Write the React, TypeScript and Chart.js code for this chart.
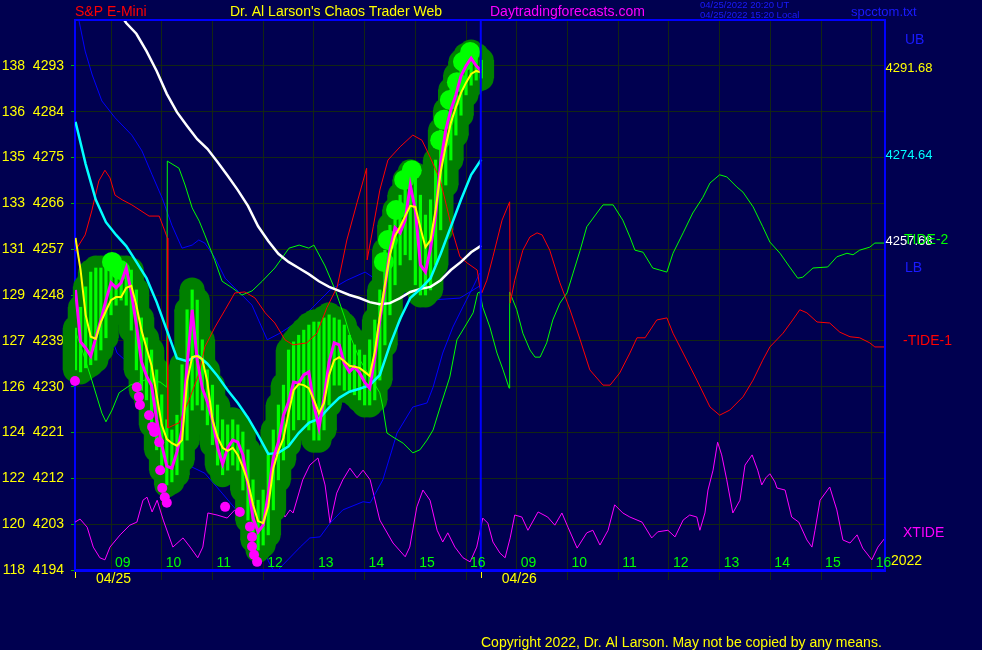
import React, { useEffect, useRef } from 'react';
import { Chart, registerables } from 'chart.js';

Chart.register(...registerables);

// ---------- axis / label data ----------
const hourTicks = [0, 1, 2, 3, 4, 5, 6, 7, 8, 9, 10, 11, 12, 13, 14, 15];
const hourLabels = ['09', '10', '11', '12', '13', '14', '15', '16', '09', '10', '11', '12', '13', '14', '15', '16'];
const dateTicks = [0, 8];
const dateLabels = ['04/25', '04/26'];
const dayStartMarks = [-0.71, 7.29];
const nowTime = 7.29;
const priceTicks = [4194, 4203, 4212, 4221, 4230, 4239, 4248, 4257, 4266, 4275, 4284, 4293];
const leftTickLabels = ['118', '120', '122', '124', '126', '127', '129', '131', '133', '135', '136', '138'];
const xMin = -0.71;
const xMax = 15.26;
const yMin = 4194;
const yMax = 4302;

// ---------- series (x = session hours from 09:00 of 04/25) ----------
const fastStart = -0.7;
const fastStep = 0.1;
const priceClose = [
  4249.0, 4238.8, 4237.6, 4236.0, 4239.6, 4243.1, 4247.0, 4250.4, 4249.4, 4250.4,
  4253.3, 4248.6, 4242.1, 4234.9, 4232.1, 4230.2, 4223.5, 4218.6, 4214.4, 4214.0,
  4217.2, 4221.5, 4234.3, 4245.1, 4235.2, 4229.7, 4227.0, 4223.5, 4218.1, 4214.8,
  4218.0, 4219.5, 4219.1, 4216.6, 4210.7, 4204.2, 4201.5, 4202.8, 4208.9, 4216.0,
  4219.1, 4224.4, 4227.0, 4230.9, 4230.7, 4232.3, 4232.9, 4226.4, 4221.9, 4227.8,
  4234.9, 4238.6, 4238.2, 4234.5, 4232.9, 4233.9, 4232.7, 4230.9, 4229.7, 4235.6,
  4243.1, 4249.4, 4256.8, 4261.2, 4260.2, 4262.7, 4269.6, 4264.7, 4253.9, 4252.5,
  4257.2, 4263.7, 4274.1, 4280.4, 4284.3, 4287.3, 4291.0, 4293.0, 4294.5, 4293.0,
  4292.0,
];
const fastAverage = [
  4259.2, 4252.9, 4244.1, 4239.8, 4239.4, 4242.7, 4244.9, 4247.0, 4247.6, 4247.6,
  4249.4, 4249.8, 4246.0, 4241.1, 4237.6, 4234.1, 4228.4, 4222.5, 4219.7, 4218.9,
  4218.4, 4219.5, 4231.1, 4235.8, 4236.0, 4235.4, 4230.9, 4223.5, 4220.1, 4218.0,
  4217.4, 4218.0, 4216.6, 4214.2, 4211.3, 4206.8, 4203.6, 4203.2, 4206.5, 4214.0,
  4217.4, 4219.9, 4224.8, 4229.3, 4230.5, 4230.3, 4229.7, 4227.4, 4224.8, 4226.8,
  4232.3, 4235.2, 4235.8, 4235.0, 4234.1, 4233.9, 4233.7, 4232.9, 4232.1, 4236.8,
  4243.7, 4250.0, 4255.9, 4259.6, 4261.4, 4263.5, 4265.5, 4265.3, 4261.2, 4257.4,
  4258.8, 4264.7, 4272.2, 4277.3, 4281.8, 4284.9, 4287.7, 4289.7, 4291.4, 4292.0,
  4291.7,
];
const barHigh = [
  4241.5, 4245.6, 4249.6, 4252.5, 4253.3, 4253.3, 4253.3, 4252.9, 4252.9, 4253.3,
  4253.3, 4252.9, 4249.0, 4243.5, 4239.6, 4237.2, 4233.3, 4228.4, 4223.5, 4221.5,
  4224.4, 4234.3, 4245.1, 4249.0, 4247.0, 4239.2, 4233.3, 4230.3, 4226.4, 4223.5,
  4222.5, 4223.5, 4222.5, 4221.1, 4217.6, 4211.7, 4207.7, 4209.7, 4216.6, 4221.5,
  4226.4, 4230.3, 4237.2, 4238.8, 4240.1, 4241.1, 4242.1, 4242.7, 4242.7, 4243.5,
  4244.1, 4243.5, 4243.1, 4242.1, 4240.1, 4238.2, 4237.2, 4236.2, 4239.2, 4243.1,
  4249.0, 4256.8, 4261.7, 4264.7, 4267.6, 4270.6, 4272.2, 4271.6, 4267.6, 4263.7,
  4266.7, 4274.5, 4280.4, 4284.3, 4288.3, 4291.2, 4293.8, 4295.1, 4295.7, 4295.1,
  4294.1,
];
const barLow = [
  4233.3, 4232.9, 4233.7, 4234.3, 4235.2, 4237.2, 4239.6, 4244.1, 4246.0, 4247.0,
  4246.0, 4241.1, 4233.3, 4229.3, 4227.4, 4222.5, 4217.6, 4213.6, 4210.7, 4211.3,
  4212.7, 4215.6, 4219.5, 4225.4, 4226.4, 4225.4, 4222.5, 4218.6, 4214.6, 4212.7,
  4213.6, 4214.6, 4213.6, 4209.7, 4203.8, 4199.9, 4197.9, 4198.9, 4200.9, 4205.8,
  4211.7, 4215.6, 4218.6, 4221.5, 4223.5, 4223.5, 4221.5, 4219.5, 4219.5, 4221.5,
  4226.4, 4230.3, 4230.3, 4229.3, 4229.3, 4228.4, 4227.4, 4226.4, 4226.4, 4227.4,
  4231.3, 4238.2, 4244.1, 4250.0, 4253.9, 4255.9, 4254.9, 4250.0, 4248.0, 4248.0,
  4249.0, 4253.9, 4260.8, 4269.6, 4274.5, 4279.4, 4283.3, 4287.3, 4289.2, 4290.2,
  4290.6,
];

const slowStart = -0.7;
const slowStep = 0.2;
const mediumAverage = [
  4282.0, 4273.7, 4266.7, 4262.3, 4259.8, 4257.6, 4254.5, 4251.3, 4246.6, 4241.1,
  4235.6, 4235.0, 4236.2, 4234.5, 4232.1, 4229.3, 4226.8, 4223.9, 4220.5, 4216.8,
  4217.0, 4218.3, 4220.9, 4222.9, 4223.7, 4225.9, 4227.8, 4229.0, 4229.6, 4230.3,
  4232.3, 4238.2, 4243.3, 4247.4, 4249.2, 4251.3, 4256.1, 4261.4, 4266.7, 4271.6,
  4274.6,
];
const longStart = 0.1;
const longStep = 0.2;
const longAverage = [
  4304.4, 4301.4, 4299.3, 4295.9, 4292.0, 4287.5, 4283.9, 4281.2, 4278.6, 4276.7,
  4274.1, 4271.4, 4268.6, 4265.5, 4261.5, 4258.6, 4256.1, 4254.5, 4253.3, 4252.1,
  4250.7, 4249.6, 4248.8, 4248.0, 4247.4, 4246.6, 4246.2, 4246.4, 4247.4, 4248.6,
  4249.2, 4249.6, 4250.9, 4252.9, 4254.5, 4256.4, 4257.7,
];

const lowMarks = [
  [-0.71, 4231.1], [0.51, 4229.9], [0.55, 4228.0], [0.57, 4226.4], [0.75, 4224.4], [0.81, 4222.1],
  [0.85, 4221.1], [0.95, 4219.1], [0.97, 4213.6], [1.01, 4210.1], [1.06, 4208.3], [1.10, 4207.2],
  [2.25, 4206.4], [2.54, 4205.4], [2.74, 4202.5], [2.78, 4200.5], [2.78, 4198.6], [2.82, 4197.0],
  [2.88, 4195.6],
];
const brightMarks = [
  [0.02, 4254.5], [0.18, 4252.9], [5.38, 4254.5], [5.46, 4258.8], [5.62, 4264.7], [5.78, 4270.6],
  [5.93, 4272.5], [6.49, 4278.4], [6.56, 4282.4], [6.68, 4286.3], [6.82, 4289.8], [6.94, 4293.8],
  [7.08, 4295.7],
];

const upperBand = [
  [-0.63, 4301.8], [-0.51, 4295.9], [-0.37, 4291.2], [-0.18, 4286.1], [0.08, 4282.8], [0.41, 4279.4],
  [0.61, 4276.3], [0.81, 4271.6], [1.01, 4267.0], [1.20, 4261.7], [1.40, 4257.2], [1.60, 4257.8],
  [1.73, 4258.8], [1.85, 4258.2], [2.05, 4255.3], [2.25, 4251.3], [2.44, 4249.4], [2.64, 4247.4],
  [2.78, 4246.0], [3.08, 4239.2], [3.33, 4240.5], [3.73, 4243.1], [3.98, 4245.6], [4.32, 4249.0],
  [4.65, 4250.9], [5.01, 4252.5], [5.16, 4251.5], [5.70, 4248.6], [6.29, 4247.0], [6.88, 4247.4],
  [7.29, 4249.9],
];
const lowerBand = [
  [-0.71, 4257.4], [-0.47, 4249.6], [-0.22, 4245.7], [-0.02, 4240.5], [0.12, 4236.6], [0.28, 4235.2],
  [0.57, 4231.3], [0.97, 4223.5], [1.40, 4215.2], [1.60, 4214.2], [1.85, 4213.0], [2.19, 4209.1],
  [2.52, 4205.2], [2.78, 4203.8], [3.09, 4196.0], [3.25, 4193.0], [3.33, 4194.4], [3.73, 4198.5],
  [3.92, 4200.3], [4.12, 4200.5], [4.32, 4203.2], [4.57, 4205.8], [4.97, 4207.4], [5.11, 4207.2],
  [5.36, 4211.7], [5.64, 4220.9], [5.95, 4226.0], [6.23, 4226.8], [6.35, 4229.9], [6.54, 4236.6],
  [6.74, 4241.7], [6.94, 4245.7], [7.14, 4249.6], [7.27, 4252.3],
];

const tide1 = [
  [-0.71, 4256.6], [-0.51, 4259.8], [-0.38, 4264.5], [-0.24, 4270.4], [-0.12, 4272.5], [-0.02, 4271.0],
  [0.08, 4267.6], [0.22, 4266.7], [0.41, 4265.7], [0.75, 4263.5], [0.95, 4263.5], [1.06, 4260.6],
  [1.11, 4259.2], [1.12, 4221.9], [1.34, 4222.9], [1.54, 4227.4], [1.74, 4232.7], [1.85, 4237.8],
  [2.05, 4241.7], [2.25, 4245.1], [2.44, 4248.4], [2.64, 4248.6], [2.84, 4247.4], [3.04, 4244.5],
  [3.23, 4242.5], [3.43, 4239.2], [3.59, 4238.2], [3.86, 4238.6], [4.06, 4240.5], [4.26, 4245.6],
  [4.46, 4249.6], [4.65, 4258.8], [4.85, 4266.1], [5.04, 4272.9], [5.05, 4254.9], [5.17, 4261.4],
  [5.30, 4268.6], [5.46, 4274.5], [5.70, 4277.1], [5.95, 4279.4], [6.13, 4278.4], [6.29, 4275.1],
  [6.49, 4270.6], [6.62, 4265.3], [6.74, 4260.2], [6.88, 4255.5], [7.02, 4254.3], [7.22, 4252.9],
  [7.27, 4249.6], [7.31, 4248.4], [7.41, 4250.9], [7.53, 4255.5], [7.71, 4262.7], [7.86, 4266.3],
  [7.87, 4246.4], [7.96, 4250.9], [8.12, 4256.8], [8.26, 4259.4], [8.40, 4260.2], [8.50, 4259.8],
  [8.65, 4256.8], [8.85, 4250.4], [9.05, 4245.1], [9.25, 4239.2], [9.44, 4233.3], [9.70, 4230.3],
  [9.84, 4230.3], [10.03, 4232.7], [10.23, 4236.6], [10.37, 4239.6], [10.53, 4239.6], [10.76, 4243.1],
  [10.96, 4243.5], [11.08, 4240.5], [11.28, 4236.6], [11.55, 4231.3], [11.81, 4226.0], [12.00, 4224.4],
  [12.20, 4225.4], [12.46, 4228.0], [12.66, 4231.3], [12.85, 4235.2], [12.99, 4237.8], [13.25, 4240.5],
  [13.44, 4243.1], [13.58, 4245.1], [13.72, 4244.5], [13.92, 4242.7], [14.17, 4242.5], [14.37, 4240.7],
  [14.57, 4239.8], [14.76, 4239.6], [14.96, 4238.6], [15.06, 4237.8], [15.26, 4237.8],
];
const tide2 = [
  [-0.71, 4241.1], [-0.57, 4237.2], [-0.38, 4231.3], [-0.18, 4224.8], [-0.10, 4223.1], [0.02, 4225.4],
  [0.16, 4228.8], [0.38, 4230.3], [0.67, 4231.3], [0.97, 4230.9], [1.10, 4229.9], [1.11, 4274.3],
  [1.34, 4272.9], [1.46, 4269.6], [1.60, 4265.1], [1.74, 4262.5], [1.85, 4259.8], [2.05, 4254.7],
  [2.19, 4250.7], [2.39, 4249.4], [2.58, 4248.0], [2.78, 4248.8], [2.98, 4250.7], [3.23, 4253.3],
  [3.51, 4257.2], [3.71, 4257.8], [3.90, 4257.2], [4.00, 4257.8], [4.22, 4253.7], [4.42, 4249.0],
  [4.61, 4243.5], [4.71, 4240.1], [4.91, 4235.2], [5.11, 4231.9], [5.30, 4228.8], [5.36, 4226.0],
  [5.44, 4220.9], [5.56, 4220.1], [5.76, 4218.9], [5.95, 4217.0], [6.09, 4217.6], [6.23, 4219.5],
  [6.35, 4221.5], [6.49, 4226.0], [6.68, 4231.9], [6.82, 4239.2], [7.02, 4242.5], [7.14, 4244.5],
  [7.23, 4248.4], [7.27, 4248.6], [7.33, 4245.6], [7.47, 4241.7], [7.61, 4236.6], [7.73, 4233.3],
  [7.85, 4229.7], [7.86, 4248.6], [8.00, 4245.1], [8.12, 4240.5], [8.26, 4237.2], [8.36, 4235.8],
  [8.46, 4235.8], [8.59, 4238.6], [8.71, 4243.1], [8.85, 4246.4], [8.99, 4248.4], [9.11, 4252.3],
  [9.25, 4256.8], [9.38, 4261.4], [9.58, 4264.1], [9.70, 4265.7], [9.90, 4265.7], [10.09, 4262.7],
  [10.23, 4259.4], [10.33, 4256.8], [10.49, 4256.4], [10.68, 4253.3], [10.82, 4252.9], [10.96, 4252.5],
  [11.08, 4256.2], [11.28, 4260.2], [11.47, 4264.1], [11.67, 4267.2], [11.81, 4270.0], [12.00, 4271.6],
  [12.14, 4271.2], [12.34, 4269.2], [12.46, 4268.2], [12.66, 4265.3], [12.85, 4261.4], [12.99, 4258.4],
  [13.19, 4256.2], [13.38, 4253.5], [13.54, 4251.3], [13.64, 4251.5], [13.84, 4253.3], [14.13, 4253.5],
  [14.31, 4255.5], [14.51, 4256.2], [14.63, 4255.9], [14.76, 4256.8], [14.96, 4257.4], [15.06, 4258.2],
  [15.26, 4258.2],
];
const xtide = [
  [-0.71, 4203.4], [-0.61, 4204.0], [-0.47, 4202.4], [-0.35, 4198.5], [-0.22, 4196.4], [-0.12, 4196.0],
  [-0.02, 4198.5], [0.18, 4200.9], [0.37, 4202.8], [0.51, 4203.4], [0.63, 4207.7], [0.71, 4208.3],
  [0.81, 4205.4], [0.91, 4207.7], [1.03, 4203.8], [1.22, 4198.5], [1.42, 4200.3], [1.56, 4198.5],
  [1.71, 4196.4], [1.81, 4198.5], [1.91, 4205.2], [2.09, 4204.8], [2.29, 4204.2], [2.44, 4205.8],
  [2.64, 4203.8], [2.92, 4201.8], [3.11, 4203.2], [3.23, 4205.8], [3.31, 4207.7], [3.43, 4204.4],
  [3.53, 4205.8], [3.59, 4205.2], [3.78, 4211.7], [3.92, 4214.6], [4.08, 4216.0], [4.22, 4210.7],
  [4.32, 4203.2], [4.45, 4209.1], [4.57, 4211.7], [4.71, 4214.0], [4.85, 4212.1], [4.97, 4213.6],
  [5.11, 4211.7], [5.30, 4203.8], [5.56, 4199.3], [5.80, 4196.6], [5.89, 4198.5], [6.03, 4206.4],
  [6.15, 4209.7], [6.29, 4207.7], [6.43, 4201.8], [6.54, 4199.5], [6.64, 4201.3], [6.78, 4198.5],
  [6.94, 4196.4], [7.08, 4195.6], [7.21, 4198.5], [7.33, 4204.2], [7.43, 4203.2], [7.53, 4199.5],
  [7.67, 4197.3], [7.77, 4196.4], [7.87, 4200.3], [7.96, 4204.8], [8.10, 4204.4], [8.22, 4201.8],
  [8.42, 4205.4], [8.61, 4204.4], [8.75, 4202.8], [8.89, 4205.2], [9.01, 4202.4], [9.19, 4198.3],
  [9.38, 4201.3], [9.50, 4201.8], [9.64, 4198.9], [9.80, 4201.8], [9.93, 4206.8], [10.09, 4205.2],
  [10.23, 4204.4], [10.47, 4203.4], [10.66, 4200.3], [10.78, 4201.5], [10.98, 4201.8], [11.12, 4200.5],
  [11.28, 4203.8], [11.41, 4204.8], [11.55, 4204.4], [11.61, 4201.8], [11.71, 4205.2], [11.77, 4209.7],
  [11.87, 4213.6], [11.96, 4219.1], [12.04, 4216.6], [12.14, 4211.7], [12.26, 4205.2], [12.40, 4207.7],
  [12.50, 4214.6], [12.64, 4216.6], [12.75, 4213.6], [12.83, 4210.7], [12.91, 4212.1], [12.99, 4212.9],
  [13.09, 4211.3], [13.13, 4210.1], [13.29, 4209.7], [13.42, 4204.4], [13.56, 4203.4], [13.72, 4199.9],
  [13.82, 4198.5], [13.88, 4201.8], [13.98, 4207.7], [14.17, 4210.3], [14.31, 4205.8], [14.43, 4199.9],
  [14.57, 4199.3], [14.71, 4200.9], [14.82, 4198.3], [15.00, 4196.0], [15.12, 4198.5], [15.26, 4200.3],
];

const endValues = [
  { value: 4291.68, text: '4291.68', color: '#ffff00' },
  { value: 4274.64, text: '4274.64', color: '#00ffff' },
  { value: 4257.68, text: '4257.68', color: '#ffffff' },
];

// ---------- styling ----------
const BG = '#000050';
const GRID = '#132613';
const BLUE = '#0000ff';
const FONT = '"Liberation Sans", Arial, Helvetica, sans-serif';

const seq = (start: number, step: number, vals: number[]) =>
  vals.map((v, i) => ({ x: Math.round((start + i * step) * 100) / 100, y: v }));
const pairs = (arr: number[][]) => arr.map(([x, y]) => ({ x, y }));
const ranges = (start: number, step: number, lo: number[], hi: number[]) =>
  lo.map((l, i) => ({ x: Math.round((start + i * step) * 100) / 100, y: [l, hi[i]] }));

const overlay = {
  id: 'overlay',
  beforeDraw(chart: any) {
    const { ctx, width, height } = chart;
    ctx.save();
    ctx.fillStyle = BG;
    ctx.fillRect(0, 0, width, height);
    ctx.restore();
  },
  afterDatasetsDraw(chart: any) {
    const { ctx, chartArea: a, scales } = chart;
    const x = scales.x;
    ctx.save();
    ctx.strokeStyle = BLUE;
    ctx.lineWidth = 2;
    const nx = x.getPixelForValue(nowTime);
    ctx.beginPath();
    ctx.moveTo(nx, a.top);
    ctx.lineTo(nx, a.bottom);
    ctx.stroke();
    ctx.beginPath();
    ctx.moveTo(a.left, a.top);
    ctx.lineTo(a.right, a.top);
    ctx.lineTo(a.right, a.bottom);
    ctx.stroke();
    ctx.restore();
  },
  afterDraw(chart: any) {
    const { ctx, chartArea: a, scales } = chart;
    const x = scales.x;
    const y = scales.y;
    ctx.save();
    ctx.textBaseline = 'middle';
    const txt = (s: string, px: number, py: number, color: string, size = 14, align = 'left') => {
      ctx.font = `${size}px ${FONT}`;
      ctx.fillStyle = color;
      ctx.textAlign = align;
      ctx.fillText(s, px, py);
    };
    hourTicks.forEach((t, i) => txt(hourLabels[i], x.getPixelForValue(t) + 4, a.bottom - 7, '#00ff00'));
    dateTicks.forEach((t, i) => txt(dateLabels[i], x.getPixelForValue(t) + 2.5, a.bottom + 9, '#ffff00', 14, 'center'));
    ctx.strokeStyle = '#ffff00';
    ctx.lineWidth = 1;
    dayStartMarks.forEach((t) => {
      const px = Math.round(x.getPixelForValue(t)) + 0.5;
      ctx.beginPath();
      ctx.moveTo(px, a.bottom + 2);
      ctx.lineTo(px, a.bottom + 8);
      ctx.stroke();
    });
    txt('S&P E-Mini', 75, 12, '#ff0000');
    txt("Dr. Al Larson's Chaos Trader Web", 230, 12, '#ffff00');
    txt('Daytradingforecasts.com', 490, 12, '#ff00ff');
    txt('04/25/2022 20:20 UT', 700, 5, '#1a1aff', 9.5);
    txt('04/25/2022 15:20 Local', 700, 15, '#1a1aff', 9.5);
    txt('spcctom.txt', 851, 12, '#1a1aff', 13);
    txt('UB', 905, 40, '#1a1aff');
    endValues.forEach((e) => txt(e.text, a.right + 0.5, y.getPixelForValue(e.value) - 4, e.color, 13));
    txt('TIDE-2', 904, 240, '#00ff00');
    txt('LB', 905, 268, '#1a1aff');
    txt('-TIDE-1', 903, 341, '#ff0000');
    txt('XTIDE', 903, 533, '#ff00ff');
    txt('2022', 891, 561, '#ffff00');
    txt('Copyright 2022, Dr. Al Larson. May not be copied by any means.', 481, 643, '#ffff00');
    ctx.restore();
  },
};

export default function App() {
  const ref = useRef<HTMLCanvasElement>(null);
  useEffect(() => {
    if (!ref.current) return;
    Chart.defaults.font.family = FONT;
    const line = (label: string, data: any[], color: string, width: number, order: number) => ({
      type: 'line' as const,
      label,
      data,
      borderColor: color,
      borderWidth: width,
      pointRadius: 0,
      tension: 0,
      fill: false,
      order,
    });
    const dots = (label: string, data: any[], color: string, r: number, order: number) => ({
      type: 'line' as const,
      label,
      data,
      showLine: false,
      pointRadius: r,
      pointBackgroundColor: color,
      pointBorderColor: color,
      pointBorderWidth: 0,
      order,
      clip: false as const,
    });
    const chart = new Chart(ref.current, {
      type: 'line',
      data: {
        datasets: [
          line('Fast average', seq(fastStart, fastStep, fastAverage), '#ffff00', 2, 0),
          line('Price', seq(fastStart, fastStep, priceClose), '#ff00ff', 3, 1),
          dots('Lows', pairs(lowMarks), '#ff00ff', 5, 2),
          line('Medium average', seq(slowStart, slowStep, mediumAverage), '#00ffff', 2.5, 3),
          line('Long average', seq(longStart, longStep, longAverage), '#ffffff', 2.5, 4),
          line('TIDE-1', pairs(tide1), '#ff0000', 1, 5),
          line('TIDE-2', pairs(tide2), '#00ff00', 1, 5),
          dots('Bright', pairs(brightMarks), '#00ff00', 10, 7),
          {
            type: 'bar' as const,
            label: 'Range',
            data: ranges(fastStart, fastStep, barLow, barHigh) as any,
            backgroundColor: '#00ff00',
            barThickness: 2.5,
            grouped: false,
            order: 8,
          },
          dots('Band high', seq(fastStart, fastStep, barHigh), '#008000', 12.5, 9),
          dots('Band low', seq(fastStart, fastStep, barLow), '#008000', 12.5, 9),
          {
            type: 'bar' as const,
            label: 'Band',
            data: ranges(fastStart, fastStep, barLow, barHigh) as any,
            backgroundColor: '#008000',
            barThickness: 25,
            grouped: false,
            order: 9,
            clip: false as const,
          },
          line('UB', pairs(upperBand), BLUE, 1, 10),
          line('LB', pairs(lowerBand), BLUE, 1, 10),
          line('XTIDE', pairs(xtide), '#ff00ff', 1, 10),
        ] as any,
      },
      options: {
        responsive: false,
        animation: false,
        events: [],
        layout: { padding: { left: 0, top: 20, right: 97, bottom: 0 } },
        plugins: { legend: { display: false }, tooltip: { enabled: false }, title: { display: false } },
        scales: {
          x: {
            type: 'linear',
            min: xMin,
            max: xMax,
            offset: false,
            afterBuildTicks: (s: any) => {
              s.ticks = hourTicks.map((v) => ({ value: v }));
            },
            afterFit: (s: any) => {
              s.height = 80;
              s.paddingLeft = 0;
              s.paddingRight = 0;
            },
            ticks: { display: false },
            grid: { color: GRID, tickColor: GRID, tickLength: 10, drawTicks: true, offset: false, lineWidth: 1 },
            border: { display: true, color: BLUE, width: 3 },
          },
          y: {
            type: 'linear',
            min: yMin,
            max: yMax,
            afterBuildTicks: (s: any) => {
              s.ticks = priceTicks.map((v) => ({ value: v }));
            },
            afterFit: (s: any) => {
              s.width = 75;
              s.paddingTop = 0;
              s.paddingBottom = 0;
            },
            ticks: {
              color: '#ffff00',
              font: { size: 14, family: FONT },
              padding: 7,
              autoSkip: false,
              callback: (_v: any, i: number) => `${leftTickLabels[i]}  ${priceTicks[i]}`,
            },
            grid: { color: GRID, tickColor: '#00b000', tickLength: 4, drawTicks: true, lineWidth: 1 },
            border: { display: true, color: BLUE, width: 2 },
          },
        },
      } as any,
      plugins: [overlay],
    });
    return () => chart.destroy();
  }, []);
  return (
    <div style={{ position: 'absolute', left: 0, top: 0, width: 982, height: 650, background: BG }}>
      <canvas ref={ref} width={982} height={650} style={{ display: 'block', width: 982, height: 650 }} />
    </div>
  );
}
